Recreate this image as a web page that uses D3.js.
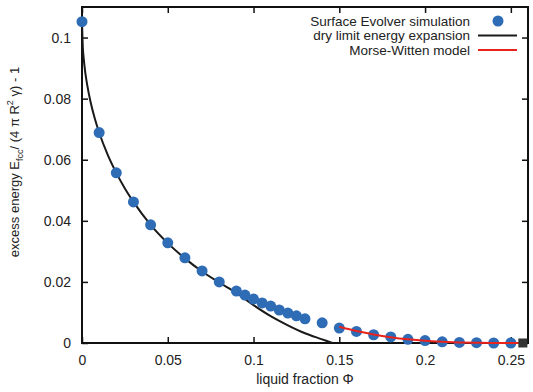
<!DOCTYPE html>
<html>
<head>
<meta charset="utf-8">
<script src="https://cdn.jsdelivr.net/npm/d3@7"></script>
<style>
  body { margin: 0; background: #fff; }
  text { font-family: "Liberation Sans", Arial, sans-serif; fill: #222; }
</style>
</head>
<body>
<script>
'use strict';

// Surface Evolver points
const simPhi = [0, 0.01, 0.02, 0.03, 0.04, 0.05, 0.06, 0.07, 0.08, 0.09, 0.095, 0.1, 0.105, 0.11, 0.115, 0.12, 0.125, 0.13, 0.14, 0.15, 0.16, 0.17, 0.18, 0.19, 0.2, 0.21, 0.22, 0.23, 0.24, 0.25];
const simE = [0.1052, 0.0689, 0.0557, 0.0462, 0.0387, 0.0328, 0.0279, 0.0236, 0.0200, 0.0170, 0.0157, 0.0144, 0.0131, 0.0121, 0.0108, 0.0098, 0.0089, 0.0079, 0.0066, 0.0049, 0.0038, 0.0027, 0.0020, 0.0012, 0.0008, 0.0004, 0.0002, 0.0001, 0.0000, 0.0000];

// dry limit energy expansion
const dryPhi = [0, 0.0005, 0.001, 0.002, 0.003, 0.005, 0.0075, 0.01, 0.015, 0.02, 0.025, 0.03, 0.04, 0.05, 0.06, 0.07, 0.08, 0.09, 0.1, 0.11, 0.12, 0.13, 0.14, 0.146];
const dryE = [0.1052, 0.0966, 0.0931, 0.0882, 0.0846, 0.0789, 0.0734, 0.0689, 0.0616, 0.0557, 0.0506, 0.0462, 0.0387, 0.0327, 0.0277, 0.0234, 0.0198, 0.0164, 0.0124, 0.0088, 0.0058, 0.0032, 0.0012, 0.0];

// Morse-Witten model
const mwPhi = [0.15, 0.16, 0.17, 0.18, 0.19, 0.2, 0.21, 0.22, 0.23, 0.24, 0.25, 0.257];
const mwE = [0.0053, 0.0039, 0.0028, 0.0019, 0.0012, 0.0007, 0.0004, 0.0002, 0.0001, 0.00003, 0.0, 0.0];

const xTicks = [0, 0.05, 0.1, 0.15, 0.2, 0.25];
const yTicks = [0, 0.02, 0.04, 0.06, 0.08, 0.1];
const legendLabels = ["Surface Evolver simulation", "dry limit energy expansion", "Morse-Witten model"];

const W = 533, H = 392;
const m = {left: 82, right: 5, top: 7, bottom: 49};

const svg = d3.select("body").append("svg")
    .attr("width", W)
    .attr("height", H);

const x = d3.scaleLinear().domain([0, 0.26]).range([m.left, W - m.right]);
const y = d3.scaleLinear().domain([0, 0.11]).range([H - m.bottom, m.top]);

const blue = "#2f6cb6";

// axes (ticks point inward, mirrored on top/right)
const fmt = d => d === 0 ? "0" : String(+d.toFixed(2));
svg.append("g")
    .attr("transform", `translate(0,${y(0)})`)
    .call(d3.axisBottom(x).tickValues(xTicks).tickSizeInner(-6).tickSizeOuter(0).tickPadding(12).tickFormat(fmt))
    .call(g => g.selectAll("text").attr("font-size", 14));
svg.append("g")
    .attr("transform", `translate(${m.left},0)`)
    .call(d3.axisLeft(y).tickValues(yTicks).tickSizeInner(-6).tickSizeOuter(0).tickPadding(11).tickFormat(fmt))
    .call(g => g.selectAll("text").attr("font-size", 14));
svg.append("g")
    .attr("transform", `translate(0,${m.top})`)
    .call(d3.axisTop(x).tickValues(xTicks).tickSizeInner(-6).tickSizeOuter(0).tickFormat(""));
svg.append("g")
    .attr("transform", `translate(${W - m.right},0)`)
    .call(d3.axisRight(y).tickValues(yTicks).tickSizeInner(-6).tickSizeOuter(0).tickFormat(""));
svg.selectAll(".domain").remove();
svg.selectAll(".tick line").attr("stroke", "#111").attr("stroke-width", 1.5);

svg.append("rect")
    .attr("x", m.left).attr("y", m.top)
    .attr("width", W - m.right - m.left).attr("height", H - m.bottom - m.top)
    .attr("fill", "none").attr("stroke", "#111").attr("stroke-width", 2);

// clip for the curves
svg.append("clipPath").attr("id", "clip")
  .append("rect")
    .attr("x", m.left).attr("y", m.top - 6)
    .attr("width", W - m.right - m.left).attr("height", H - m.bottom - m.top + 6);

const plot = svg.append("g").attr("clip-path", "url(#clip)");

const line = d3.line().x(d => x(d[0])).y(d => y(d[1])).curve(d3.curveMonotoneX);

plot.append("path")
    .datum(d3.zip(dryPhi, dryE))
    .attr("d", line)
    .attr("fill", "none").attr("stroke", "#1a1a1a").attr("stroke-width", 2);

svg.append("g").selectAll("circle")
    .data(d3.zip(simPhi, simE))
    .enter()
    .append("circle")
    .attr("cx", d => x(d[0]))
    .attr("cy", d => y(d[1]))
    .attr("r", 5.5)
    .attr("fill", blue);

svg.append("path")
    .datum(d3.zip(mwPhi, mwE))
    .attr("d", line)
    .attr("fill", "none").attr("stroke", "#e8231e").attr("stroke-width", 2);

// end point square
const sq = 9;
svg.append("rect")
    .attr("x", x(mwPhi[mwPhi.length - 1]) - sq / 2)
    .attr("y", y(0) - sq / 2)
    .attr("width", sq).attr("height", sq)
    .attr("fill", "#333");

// legend
const legend = svg.append("g");
const ly = [21, 35.5, 50];
legendLabels.forEach((t, i) => {
    legend.append("text")
        .attr("x", 470).attr("y", ly[i])
        .attr("dy", "0.35em")
        .attr("text-anchor", "end")
        .attr("font-size", 13.5)
        .text(t);
});
legend.append("circle").attr("cx", 498).attr("cy", ly[0]).attr("r", 5.5).attr("fill", blue);
legend.append("line").attr("x1", 478).attr("x2", 517).attr("y1", ly[1]).attr("y2", ly[1])
    .attr("stroke", "#1a1a1a").attr("stroke-width", 2);
legend.append("line").attr("x1", 478).attr("x2", 517).attr("y1", ly[2]).attr("y2", ly[2])
    .attr("stroke", "#e8231e").attr("stroke-width", 2);

// axis titles
svg.append("text")
    .attr("x", (m.left + W - m.right) / 2)
    .attr("y", 384)
    .attr("text-anchor", "middle")
    .attr("font-size", 14)
    .text("liquid fraction Φ");

const yt = svg.append("text")
    .attr("transform", "translate(19,162) rotate(-90)")
    .attr("text-anchor", "middle")
    .attr("font-size", 13);
yt.append("tspan").text("excess energy E");
yt.append("tspan").attr("font-size", 9).attr("dy", 4).text("fcc");
yt.append("tspan").attr("dy", -4).text("/ (4 π R");
yt.append("tspan").attr("font-size", 9).attr("dy", -6).text("2");
yt.append("tspan").attr("dy", 6).text(" γ) - 1");
</script>
</body>
</html>
